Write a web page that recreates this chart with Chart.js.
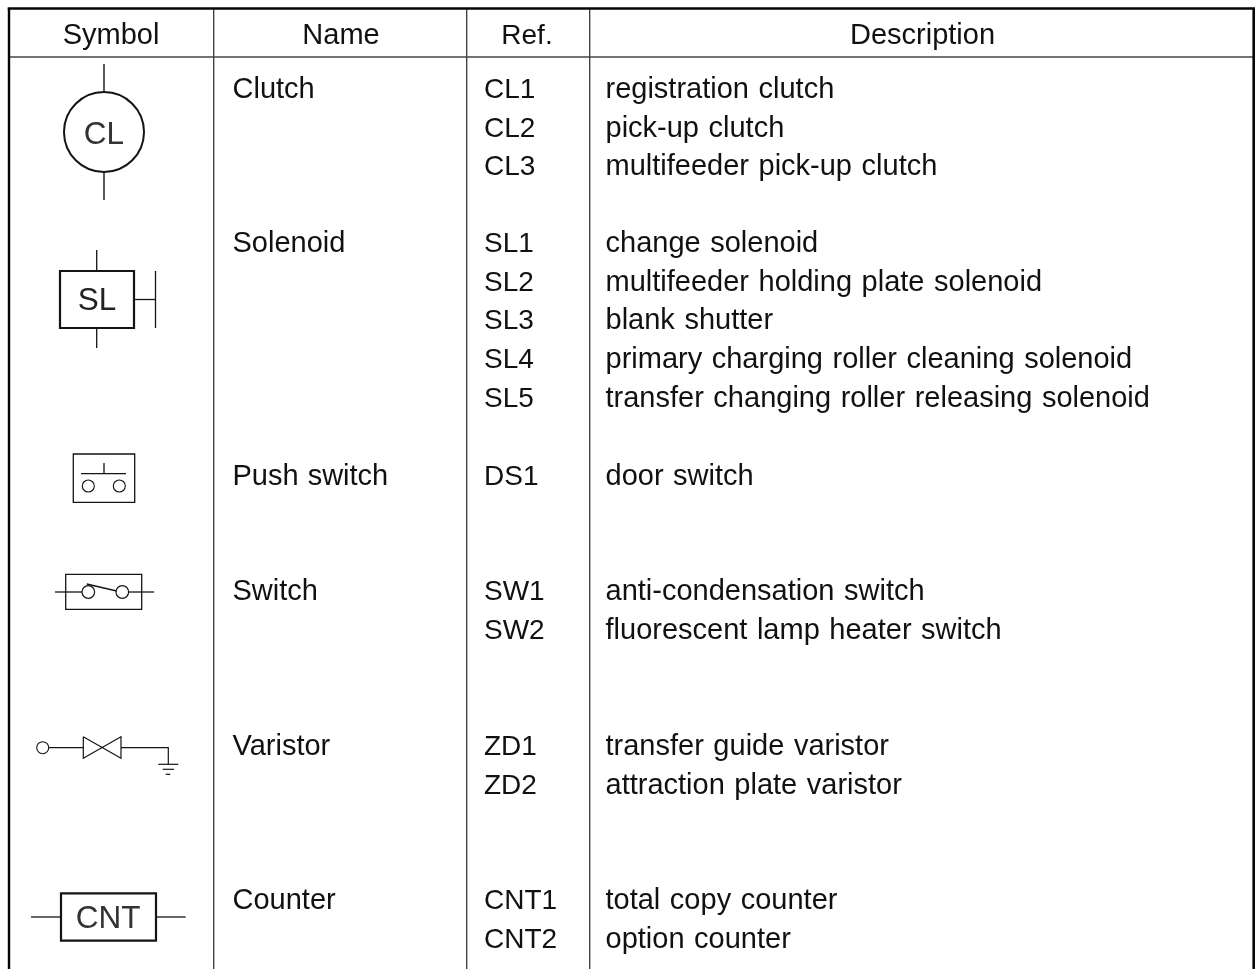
<!DOCTYPE html>
<html>
<head>
<meta charset="utf-8">
<title>Symbols</title>
<script src="https://cdn.jsdelivr.net/npm/chart.js@4/dist/chart.umd.min.js"></script>
<style>
  html, body { margin: 0; padding: 0; background: #fff; }
  canvas { display: block; }
</style>
</head>
<body>
<canvas id="symbolChart" width="1255" height="969"></canvas>
<script>
// table contents
const headers = ["Symbol", "Name", "Ref.", "Description"];
const names = ["Clutch", "Solenoid", "Push switch", "Switch", "Varistor", "Counter"];
const nameLevels = [98, 252, 484.5, 600, 755, 909];
const refs = ["CL1", "CL2", "CL3", "SL1", "SL2", "SL3", "SL4", "SL5", "DS1", "SW1", "SW2", "ZD1", "ZD2", "CNT1", "CNT2"];
const refLevels = [98, 136.5, 175, 252, 290.5, 329, 368, 406.5, 484.5, 600, 638.5, 755, 793.5, 909, 947.5];
const descriptions = [
  "registration clutch",
  "pick-up clutch",
  "multifeeder pick-up clutch",
  "change solenoid",
  "multifeeder holding plate solenoid",
  "blank shutter",
  "primary charging roller cleaning solenoid",
  "transfer changing roller releasing solenoid",
  "door switch",
  "anti-condensation switch",
  "fluorescent lamp heater switch",
  "transfer guide varistor",
  "attraction plate varistor",
  "total copy counter",
  "option counter",
];

// symbol drawings, in the same axis units as the table
const clutchStems = [[[104, 64], [104, 92]], [[104, 172], [104, 200]]];
const clutchRings = [[104, 132]];
const solenoidBox = [[60, 271], [134, 271], [134, 328], [60, 328], [60, 271]];
const solenoidStems = [[[96.7, 250], [96.7, 271]], [[96.7, 328], [96.7, 348]], [[134, 299.5], [155.5, 299.5]], [[155.5, 271], [155.5, 328]]];
const pushBox = [[73.3, 454], [134.7, 454], [134.7, 502.3], [73.3, 502.3], [73.3, 454]];
const pushLines = [[[81, 473.7], [126, 473.7]], [[104, 463], [104, 473.7]]];
const pushContacts = [[88.3, 486], [119.3, 486]];
const switchBox = [[65.7, 574.3], [141.7, 574.3], [141.7, 609.3], [65.7, 609.3], [65.7, 574.3]];
const switchLines = [[[55, 592], [82, 592]], [[129, 592], [154, 592]], [[86.7, 584], [116.7, 591]]];
const switchContacts = [[88.3, 592], [122.3, 592]];
const varistorLines = [
  [[48.7, 747.7], [83.3, 747.7]],
  [[83.3, 736.7], [121, 758.3], [121, 736.7], [83.3, 758.3], [83.3, 736.7]],
  [[121, 747.7], [168.3, 747.7], [168.3, 764.3]],
  [[158.3, 764.3], [178.3, 764.3]],
  [[162.7, 769.3], [174, 769.3]],
  [[165.7, 774.3], [170.3, 774.3]],
];
const varistorTerminal = [[42.7, 747.7]];
const counterBox = [[61, 893.3], [156, 893.3], [156, 940.7], [61, 940.7], [61, 893.3]];
const counterStems = [[[31, 917], [61, 917]], [[156, 917], [185.7, 917]]];

const ruleColumns = [213.7, 466.7, 589.7];
const headerRule = 57;

const INK = "#141414";

function pts(list) {
  return list.map(([x, y]) => ({ x, y }));
}

function lineSet(list, width, color, cap) {
  return {
    data: pts(list),
    showLine: true,
    fill: false,
    pointRadius: 0,
    borderWidth: width,
    borderColor: color || INK,
    borderCapStyle: cap || "butt",
    borderJoinStyle: "miter",
    tension: 0,
    clip: false,
  };
}

function ringSet(list, radius, width) {
  return {
    data: pts(list),
    showLine: false,
    pointStyle: "circle",
    pointRadius: radius,
    pointBorderWidth: width,
    pointBorderColor: INK,
    pointBackgroundColor: "#fff",
    clip: false,
  };
}

const datasets = [
  // table rules
  lineSet([[9, 8.5], [1253.7, 8.5]], 2.6, "#050505", "square"),
  lineSet([[9, 8.5], [9, 969]], 2.4, "#050505"),
  lineSet([[1253.7, 8.5], [1253.7, 969]], 2.6, "#050505"),
  lineSet([[9, headerRule], [1253.7, headerRule]], 1.7, "#444"),
  ...ruleColumns.map((x) => lineSet([[x, 8.5], [x, 969]], 1.4, "#444")),
  // symbols
  ...clutchStems.map((s) => lineSet(s, 1.4)),
  ringSet(clutchRings, 40, 2),
  lineSet(solenoidBox, 2.2, INK, "square"),
  ...solenoidStems.map((s) => lineSet(s, 1.3)),
  lineSet(pushBox, 1.3, INK, "square"),
  ...pushLines.map((s) => lineSet(s, 1.3)),
  ringSet(pushContacts, 6, 1.1),
  lineSet(switchBox, 1.3, INK, "square"),
  ...switchLines.map((s) => lineSet(s, 1.3)),
  ringSet(switchContacts, 6.3, 1.2),
  ...varistorLines.map((s) => lineSet(s, 1.2)),
  ringSet(varistorTerminal, 6, 1.1),
  lineSet(counterBox, 2.2, INK, "square"),
  ...counterStems.map((s) => lineSet(s, 1.3)),
];

// text goes through the same scales as the marks
const tableText = {
  id: "tableText",
  afterDatasetsDraw(chart) {
    const { ctx, scales } = chart;
    const put = (text, x, y, align, size, color, gap) => {
      ctx.font = size + "px 'Liberation Sans'";
      ctx.wordSpacing = (gap || 0) + "px";
      ctx.textAlign = align;
      ctx.textBaseline = "alphabetic";
      ctx.fillStyle = color;
      ctx.fillText(text, scales.x.getPixelForValue(x), scales.y.getPixelForValue(y));
    };
    ctx.save();
    const headerCentres = [111, 341, 527, 922.5];
    const headerSizes = [29, 29, 28, 29];
    headers.forEach((h, i) => put(h, headerCentres[i], 44, "center", headerSizes[i], "#111"));
    names.forEach((n, i) => put(n, 232.5, nameLevels[i], "left", 29, "#111", 1));
    refs.forEach((r, i) => put(r, 484, refLevels[i], "left", 28, "#111"));
    descriptions.forEach((d, i) => put(d, 605.5, refLevels[i], "left", 29, "#111", 1.5));
    put("CL", 104, 144, "center", 31.5, "#333");
    put("SL", 97, 310, "center", 31.5, "#222");
    put("CNT", 108, 927.5, "center", 31.5, "#333");
    ctx.restore();
  },
};

const symbolChart = new Chart(document.getElementById("symbolChart").getContext("2d"), {
  type: "scatter",
  data: { datasets },
  plugins: [tableText],
  options: {
    responsive: false,
    animation: false,
    events: [],
    layout: { padding: 0, autoPadding: false },
    plugins: {
      legend: { display: false },
      title: { display: false },
      tooltip: { enabled: false },
    },
    scales: {
      x: { type: "linear", display: false, min: 0, max: 1255 },
      y: { type: "linear", display: false, min: 0, max: 969, reverse: true },
    },
  },
});
</script>
</body>
</html>
